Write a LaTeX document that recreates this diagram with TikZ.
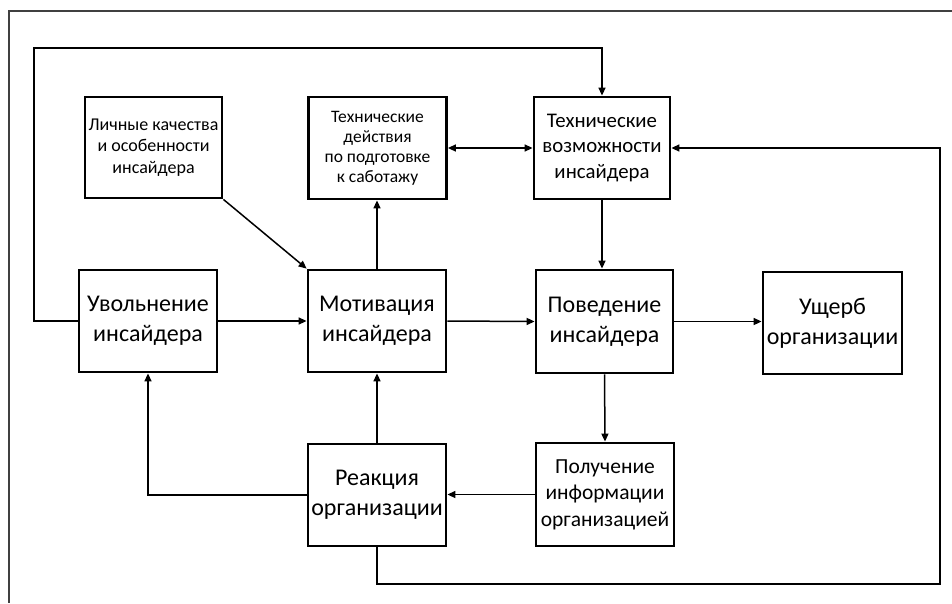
\documentclass[tikz,border=0pt]{standalone}
\usepackage{fontspec}
\setmainfont{Carlito}
\usetikzlibrary{arrows.meta}
\begin{document}
\begin{tikzpicture}[x=1pt,y=-1pt,
  box/.style={draw=black,line width=2.8pt,inner sep=0pt,align=center,
    minimum width=138pt,minimum height=102pt},
  big/.style={font=\fontsize{24}{30}\selectfont},
  mid/.style={font=\fontsize{20.8}{25.5}\selectfont},
  small/.style={font=\fontsize{18}{21.5}\selectfont},
  conn/.style={line width=1.5pt,-{Triangle[length=8pt,width=7pt]}},
  both/.style={line width=1.5pt,{Triangle[length=8pt,width=7pt]}-{Triangle[length=8pt,width=7pt]}},
  frame/.style={draw=black!75,line width=2pt}]
\useasboundingbox (0,0) rectangle (952,603);
\draw[frame] (952,11) -- (9,11) -- (9,603);

\node[box,small,minimum width=137pt,minimum height=101pt] (lich) at (153.5,147.5)
  {Личные качества\\и особенности\\инсайдера};
\node[box,font=\fontsize{17.5}{20}\selectfont] (tdej) at (377.5,148)
  {Технические\\действия\\по подготовке\\к саботажу};
\node[box,mid,minimum width=136pt] (tvoz) at (602,148)
  {Технические\\возможности\\инсайдера};
\node[box,big] (uvol) at (148,321) {Увольнение\\инсайдера};
\node[box,big] (motiv) at (377,321) {Мотивация\\инсайдера};
\node[box,big,minimum width=137pt,minimum height=103pt] (poved) at (604.5,321.5) {Поведение\\инсайдера};
\node[box,big,minimum width=139pt] (usherb) at (832.5,323) {Ущерб\\организации};
\node[box,big] (react) at (377,495) {Реакция\\организации};
\node[box,font=\fontsize{21.5}{26.5}\selectfont,minimum height=103pt] (poluch) at (605,494.5)
  {Получение\\информации\\организацией};

\coordinate (tl) at (34,48);
\coordinate (br) at (940,584);

\draw[conn] (uvol.east) -- (motiv.west);
\draw[conn] (motiv.east) -- (poved.west);
\draw[conn] (poved.east) -- (usherb.west|-poved.east);
\draw[conn] (tvoz.south) -- (tvoz.south|-poved.north);
\draw[conn] (poved.south) -- (poluch.north);
\draw[conn] (poluch.west) -- (react.east|-poluch.west);
\draw[conn] (react.north) -- (motiv.south);
\draw[conn] (react.west) -| (uvol.south);
\draw[conn] (motiv.north) -- (motiv.north|-tdej.south);
\draw[both] (tdej.east) -- (tvoz.west);
\draw[conn] (lich.south east) -- (motiv.north west);
\draw[conn] (uvol.west) -| (tl) -| (tvoz.north);
\draw[conn] (react.south) |- (br) |- (tvoz.east);
\end{tikzpicture}
\end{document}
